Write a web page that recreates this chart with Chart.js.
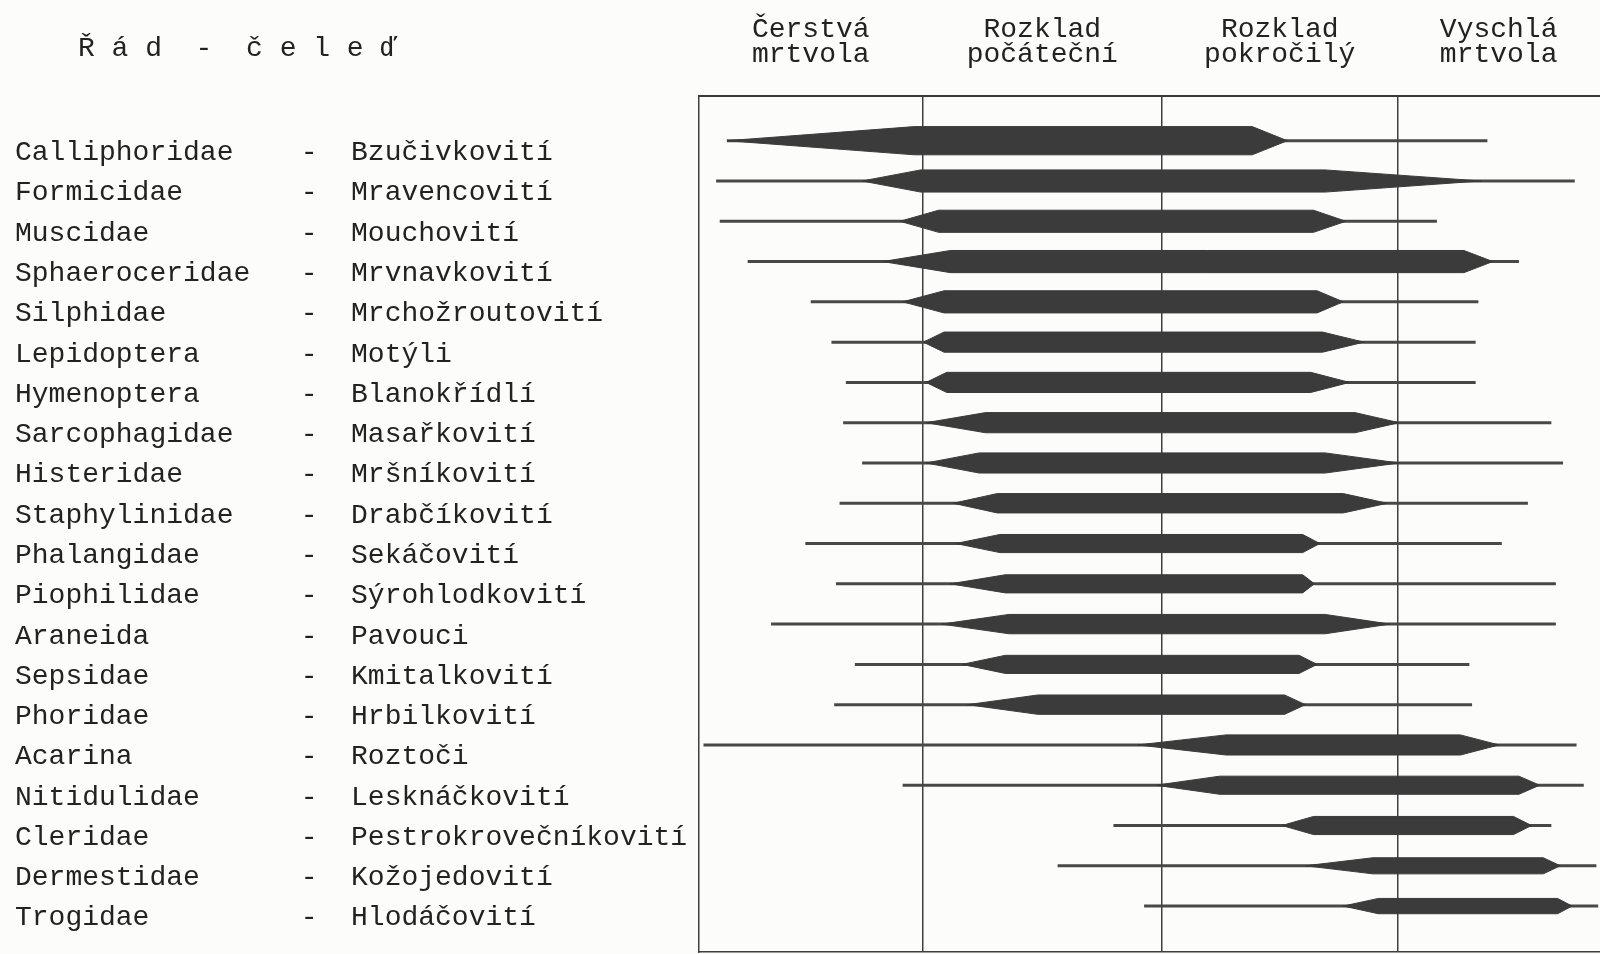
<!DOCTYPE html>
<html lang="cs">
<head>
<meta charset="UTF-8">
<title>Řád - čeleď</title>
<script src="https://cdn.jsdelivr.net/npm/chart.js@4"></script>
<style>
  body { margin: 0; background: #fcfcfb; }
  .wrap { position: relative; width: 1600px; height: 954px; }
  .heading {
    position: absolute; left: 78px; top: 35px;
    font: 28px 'Liberation Mono', monospace; line-height: 28px;
    color: #222; white-space: pre;
  }
</style>
</head>
<body>
<div class="wrap">
  <div class="heading">Ř á d  -  č e l e ď</div>
  <canvas id="chart"></canvas>
</div>
<script>
// řády / čeledi (shora dolů)
const latin = ['Calliphoridae', 'Formicidae', 'Muscidae', 'Sphaeroceridae', 'Silphidae',
  'Lepidoptera', 'Hymenoptera', 'Sarcophagidae', 'Histeridae', 'Staphylinidae',
  'Phalangidae', 'Piophilidae', 'Araneida', 'Sepsidae', 'Phoridae',
  'Acarina', 'Nitidulidae', 'Cleridae', 'Dermestidae', 'Trogidae'];
const czech = ['Bzučivkovití', 'Mravencovití', 'Mouchovití', 'Mrvnavkovití', 'Mrchožroutovití',
  'Motýli', 'Blanokřídlí', 'Masařkovití', 'Mršníkovití', 'Drabčíkovití',
  'Sekáčovití', 'Sýrohlodkovití', 'Pavouci', 'Kmitalkovití', 'Hrbilkovití',
  'Roztoči', 'Lesknáčkovití', 'Pestrokrovečníkovití', 'Kožojedovití', 'Hlodáčovití'];

// stadia rozkladu (osa x v % celé doby)
const stageNames = [['Čerstvá', 'mrtvola'], ['Rozklad', 'počáteční'], ['Rozklad', 'pokročilý'], ['Vyschlá', 'mrtvola']];
const stageBounds = [24.8, 51.4, 77.5];

// výskyt: tenká čára (ojediněle) a silné vřeteno (hojně)
const lineStart  = [3.1, 1.9, 2.3, 5.4, 12.4, 14.7, 16.3, 16.0, 18.1, 15.6, 11.8, 15.2, 8.0, 17.3, 15.0, 0.5, 22.6, 46.0, 39.8, 49.4];
const taperStart = [3.1, 18.1, 22.3, 20.4, 22.6, 24.9, 25.2, 25.2, 25.2, 28.2, 28.5, 27.9, 26.9, 29.2, 29.8, 48.7, 50.7, 64.7, 67.3, 71.5];
const fullStart  = [23.9, 24.6, 26.6, 27.9, 27.2, 27.2, 27.5, 31.8, 31.1, 33.1, 33.4, 34.0, 34.4, 34.0, 37.6, 58.5, 57.8, 68.2, 74.8, 75.4];
const fullEnd    = [61.4, 69.5, 68.2, 84.9, 68.6, 69.2, 67.9, 72.8, 69.5, 71.5, 67.0, 67.0, 69.5, 66.6, 65.0, 84.5, 91.0, 90.4, 93.7, 95.3];
const taperEnd   = [65.3, 86.8, 71.8, 88.1, 71.5, 73.8, 72.2, 77.7, 77.7, 76.4, 68.9, 68.3, 76.7, 68.6, 67.3, 88.8, 93.3, 92.4, 95.6, 96.9];
const lineEnd    = [87.5, 97.2, 81.9, 91.0, 86.5, 86.2, 86.2, 94.6, 95.9, 92.0, 89.1, 95.1, 95.1, 85.5, 85.8, 97.4, 98.2, 94.6, 99.6, 99.8];
const thickness  = [0.70, 0.55, 0.55, 0.55, 0.55, 0.5, 0.5, 0.5, 0.5, 0.48, 0.45, 0.45, 0.48, 0.45, 0.48, 0.5, 0.45, 0.45, 0.4, 0.38];

const ink = '#222';
const barColor = '#3b3b3b';
const typeFont = { family: "'Liberation Mono', monospace", size: 28 };

const edges = [0, ...stageBounds, 100];
const stageCenters = stageNames.map((_, i) => (edges[i] + edges[i + 1]) / 2);

const datasets = [];
latin.forEach((name, i) => {
  const h = thickness[i] / 2;
  datasets.push({
    data: [
      { x: taperStart[i], y: i },
      { x: fullStart[i], y: i - h },
      { x: fullEnd[i], y: i - h },
      { x: taperEnd[i], y: i },
      { x: fullEnd[i], y: i + h },
      { x: fullStart[i], y: i + h },
      { x: taperStart[i], y: i }
    ],
    showLine: true,
    fill: 'shape',
    backgroundColor: barColor,
    borderColor: barColor,
    borderWidth: 1,
    pointRadius: 0,
    tension: 0
  });
  datasets.push({
    data: [{ x: lineStart[i], y: i }, { x: lineEnd[i], y: i }],
    showLine: true,
    fill: false,
    borderColor: '#484848',
    borderWidth: 3,
    pointRadius: 0
  });
});

new Chart(document.getElementById('chart'), {
  type: 'scatter',
  data: { datasets },
  options: {
    responsive: true,
    maintainAspectRatio: false,
    animation: false,
    layout: { padding: { left: 15, right: 0, top: 0, bottom: 2 } },
    plugins: { legend: { display: false }, tooltip: { enabled: false } },
    scales: {
      x: {
        type: 'linear', position: 'top', min: 0, max: 100,
        afterBuildTicks: s => { s.ticks = stageCenters.map(v => ({ value: v })); },
        afterFit: s => { s.height = 96; s.paddingLeft = 0; s.paddingRight = 0; },
        ticks: {
          callback: (v, idx) => stageNames[idx],
          font: { ...typeFont, lineHeight: '25px' },
          color: ink, padding: 21, maxRotation: 0, autoSkip: false
        },
        grid: { display: false },
        border: { display: true, color: '#3a3a3a', width: 2 }
      },
      x2: {
        type: 'linear', position: 'bottom', min: 0, max: 100,
        afterBuildTicks: s => { s.ticks = stageBounds.map(v => ({ value: v })); },
        afterFit: s => { s.height = 0; s.paddingLeft = 0; s.paddingRight = 0; },
        ticks: { display: false },
        grid: { color: '#3f3f3f', lineWidth: 1.5, drawTicks: false },
        border: { display: true, color: '#3f3f3f', width: 1.5 }
      },
      y: {
        type: 'linear', reverse: true, min: -1.11, max: 20.14,
        afterBuildTicks: s => { s.ticks = latin.map((_, i) => ({ value: i })); },
        afterFit: s => { s.width = 684; s.paddingTop = 0; s.paddingBottom = 0; },
        ticks: {
          callback: v => latin[v].padEnd(17, ' ') + '-  ' + czech[v],
          crossAlign: 'far', labelOffset: 12, autoSkip: false,
          font: typeFont, color: ink
        },
        grid: { display: false },
        border: { display: true, color: '#3f3f3f', width: 1.5 }
      }
    }
  }
});
</script>
</body>
</html>
